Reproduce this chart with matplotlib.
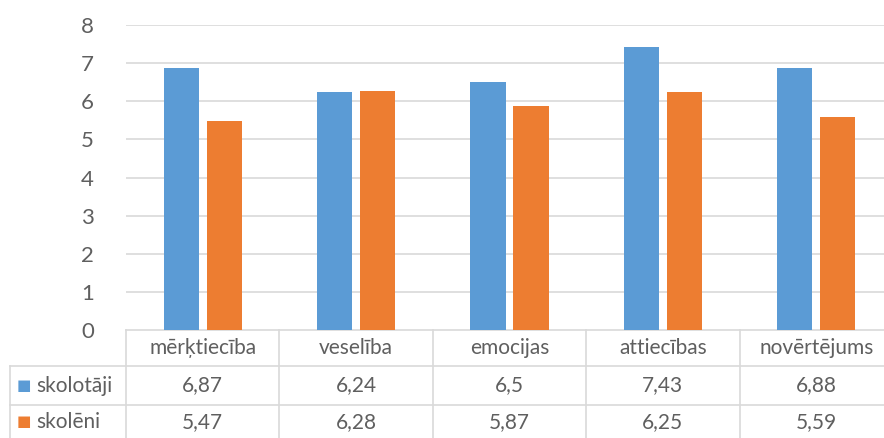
import numpy as np
import matplotlib.pyplot as plt
from matplotlib.transforms import blended_transform_factory

categories = ['mērķtiecība', 'veselība', 'emocijas', 'attiecības', 'novērtējums']
series_names = ['skolotāji', 'skolēni']
skolotaji = [6.87, 6.24, 6.5, 7.43, 6.88]
skoleni = [5.47, 6.28, 5.87, 6.25, 5.59]
value_labels = [['6,87', '6,24', '6,5', '7,43', '6,88'],
                ['5,47', '6,28', '5,87', '6,25', '5,59']]
y_ticks = [0, 1, 2, 3, 4, 5, 6, 7, 8]

colors = ['#5b9bd5', '#ed7d31']
text_color = '#5f5f5f'
line_color = '#d9d9d9'

plt.rcParams['font.family'] = ['Lato', 'DejaVu Sans']

W, H = 884, 438
fig = plt.figure(figsize=(W / 100, H / 100), dpi=100)
# plot area in pixels: x 126..893 (last column runs off the edge), y 25..330
x0, x1, ytop, ybot = 126, 893, 25, 330
ax = fig.add_axes([x0 / W, 1 - ybot / H, (x1 - x0) / W, (ybot - ytop) / H])

x = np.arange(len(categories))
width = 0.23
off = 0.14
ax.bar(x - off, skolotaji, width, color=colors[0], zorder=3)
ax.bar(x + off, skoleni, width, color=colors[1], zorder=3)

ax.set_xlim(-0.5, len(categories) - 0.5)
ax.set_ylim(0, 8)
ax.set_yticks(y_ticks)
ax.set_yticklabels([str(t) for t in y_ticks])
ax.tick_params(axis='y', length=0, pad=23, labelsize=16, labelcolor=text_color)
ax.set_xticks([])
for s in ax.spines.values():
    s.set_visible(False)
for t in y_ticks[1:]:
    ax.axhline(t, color=line_color, lw=1.2, zorder=1)

# data table under the plot, rows measured in axes-fraction units
px = 1 / (ybot - ytop)
row_edges = [0, -36 * px, -75 * px, -115 * px]
tr = blended_transform_factory(ax.transData, ax.transAxes)
tr_fig_x = blended_transform_factory(fig.transFigure, ax.transAxes)
kw = dict(color=line_color, lw=1.2, clip_on=False)

# horizontal lines
ax.plot([-0.5, len(categories) - 0.5], [0, 0], transform=tr, **kw)
for yy in row_edges[1:3]:
    ax.plot([10 / W, 1.05], [yy, yy], transform=tr_fig_x, **kw)
# vertical lines
for b in np.arange(len(categories)) - 0.5:
    ax.plot([b, b], [0, row_edges[-1]], transform=tr, **kw)
ax.plot([10 / W, 10 / W], [row_edges[1], row_edges[-1]], transform=tr_fig_x, **kw)

# header row
for xi, c in zip(x, categories):
    ax.text(xi, (row_edges[0] + row_edges[1]) / 2, c, transform=tr,
            ha='center', va='center', fontsize=15, color=text_color)

# value rows with legend keys
for r, (name, col) in enumerate(zip(series_names, colors)):
    yc = (row_edges[r + 1] + row_edges[r + 2]) / 2
    if r == 1:
        yc = row_edges[2] - 17 * px
    ax.text(17 / W, yc, '\u25A0', transform=tr_fig_x, ha='left', va='center',
            fontsize=11, color=col, family=['DejaVu Sans'])
    ax.text(36 / W, yc, name, transform=tr_fig_x, ha='left', va='center',
            fontsize=15, color=text_color)
    for xi, v in zip(x, value_labels[r]):
        ax.text(xi, yc, v, transform=tr, ha='center', va='center',
                fontsize=15, color=text_color)

fig.savefig('out.png', dpi=100)
